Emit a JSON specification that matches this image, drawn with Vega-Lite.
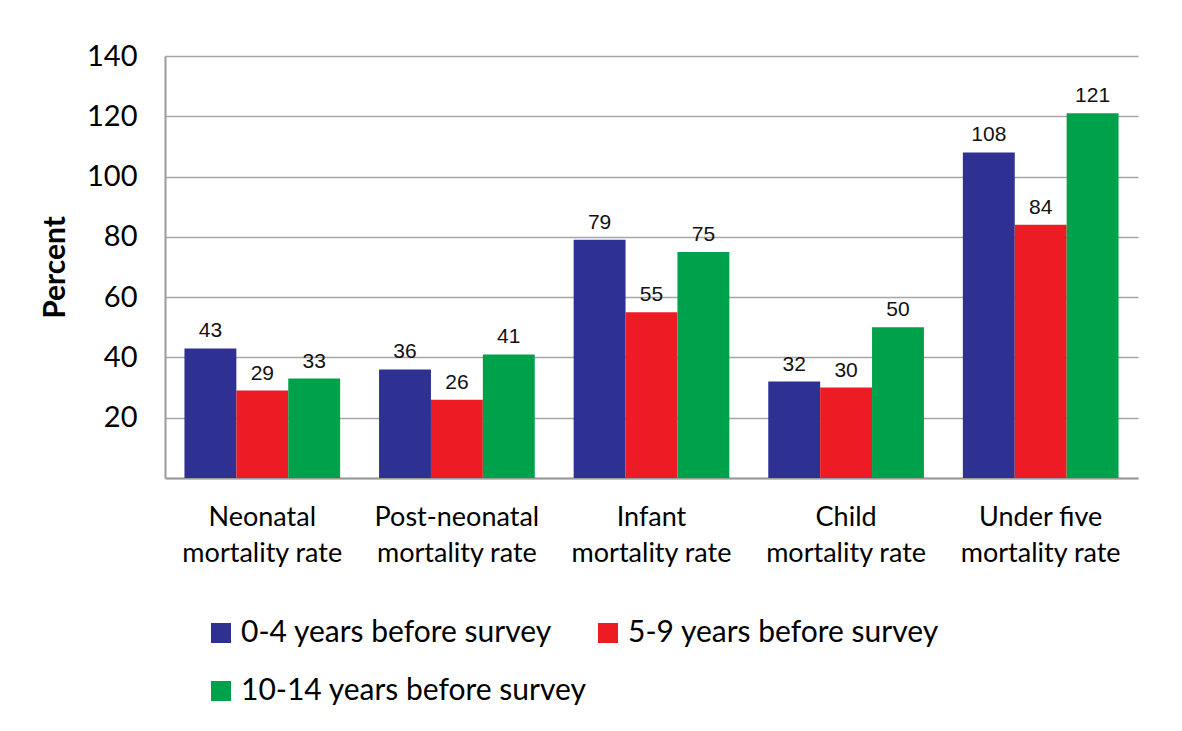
{
  "$schema": "https://vega.github.io/schema/vega-lite/v6.json",
  "width": 973,
  "height": 422,
  "autosize": {"type": "none"},
  "padding": {"left": 165, "top": 56, "right": 44, "bottom": 253},
  "background": "white",
  "data": {
    "values": [
      {"indicator": "Neonatal mortality rate", "period": "0-4 years before survey", "value": 43},
      {"indicator": "Neonatal mortality rate", "period": "5-9 years before survey", "value": 29},
      {"indicator": "Neonatal mortality rate", "period": "10-14 years before survey", "value": 33},
      {"indicator": "Post-neonatal mortality rate", "period": "0-4 years before survey", "value": 36},
      {"indicator": "Post-neonatal mortality rate", "period": "5-9 years before survey", "value": 26},
      {"indicator": "Post-neonatal mortality rate", "period": "10-14 years before survey", "value": 41},
      {"indicator": "Infant mortality rate", "period": "0-4 years before survey", "value": 79},
      {"indicator": "Infant mortality rate", "period": "5-9 years before survey", "value": 55},
      {"indicator": "Infant mortality rate", "period": "10-14 years before survey", "value": 75},
      {"indicator": "Child mortality rate", "period": "0-4 years before survey", "value": 32},
      {"indicator": "Child mortality rate", "period": "5-9 years before survey", "value": 30},
      {"indicator": "Child mortality rate", "period": "10-14 years before survey", "value": 50},
      {"indicator": "Under five mortality rate", "period": "0-4 years before survey", "value": 108},
      {"indicator": "Under five mortality rate", "period": "5-9 years before survey", "value": 84},
      {"indicator": "Under five mortality rate", "period": "10-14 years before survey", "value": 121}
    ]
  },
  "encoding": {
    "x": {
      "field": "indicator",
      "type": "nominal",
      "sort": ["Neonatal mortality rate", "Post-neonatal mortality rate", "Infant mortality rate", "Child mortality rate", "Under five mortality rate"],
      "scale": {"paddingInner": 0.2, "paddingOuter": 0.1},
      "axis": {
        "title": null,
        "labelAngle": 0,
        "labelExpr": "[replace(datum.value, ' mortality rate', ''), 'mortality rate']",
        "labelFont": "Lato",
        "labelFontSize": 27,
        "labelColor": "#000000",
        "labelLineHeight": 36,
        "labelPadding": 26,
        "ticks": false,
        "domainColor": "#9a9a9a",
        "domainWidth": 2,
        "grid": false
      }
    },
    "xOffset": {
      "field": "period",
      "type": "nominal",
      "sort": ["0-4 years before survey", "5-9 years before survey", "10-14 years before survey"],
      "scale": {"paddingInner": 0, "paddingOuter": 0}
    },
    "y": {
      "field": "value",
      "type": "quantitative",
      "scale": {"domain": [0, 140], "nice": false},
      "axis": {
        "title": "Percent",
        "titleFont": "Lato",
        "titleFontSize": 30,
        "titleFontWeight": "bold",
        "titleColor": "#000000",
        "titlePadding": 16,
        "values": [0, 20, 40, 60, 80, 100, 120, 140],
        "labelExpr": "datum.value == 0 ? '' : datum.label",
        "labelFont": "Lato",
        "labelFontSize": 29,
        "labelColor": "#000000",
        "labelPadding": 28,
        "ticks": false,
        "domainColor": "#9a9a9a",
        "domainWidth": 2,
        "grid": true,
        "gridColor": "#a6a6a6",
        "gridWidth": 1.5
      }
    }
  },
  "layer": [
    {
      "mark": {"type": "bar"},
      "encoding": {
        "color": {
          "field": "period",
          "type": "nominal",
          "sort": ["0-4 years before survey", "5-9 years before survey", "10-14 years before survey"],
          "scale": {
            "domain": ["0-4 years before survey", "5-9 years before survey", "10-14 years before survey"],
            "range": ["#2e3192", "#ed1c24", "#00a14b"]
          },
          "legend": {
            "title": null,
            "orient": "none",
            "legendX": 41,
            "legendY": 562,
            "direction": "horizontal",
            "columns": 2,
            "columnPadding": 6,
            "rowPadding": 28,
            "symbolType": "square",
            "symbolSize": 400,
            "symbolStrokeWidth": 0,
            "labelFont": "Lato",
            "labelFontSize": 30,
            "labelColor": "#000000",
            "labelOffset": 5,
            "labelLimit": 500
          }
        }
      }
    },
    {
      "mark": {"type": "text", "baseline": "bottom", "dy": -7, "font": "Liberation Sans", "fontSize": 21, "color": "#111111"},
      "encoding": {
        "text": {"field": "value", "type": "quantitative"}
      }
    }
  ],
  "config": {
    "view": {"stroke": null}
  }
}
